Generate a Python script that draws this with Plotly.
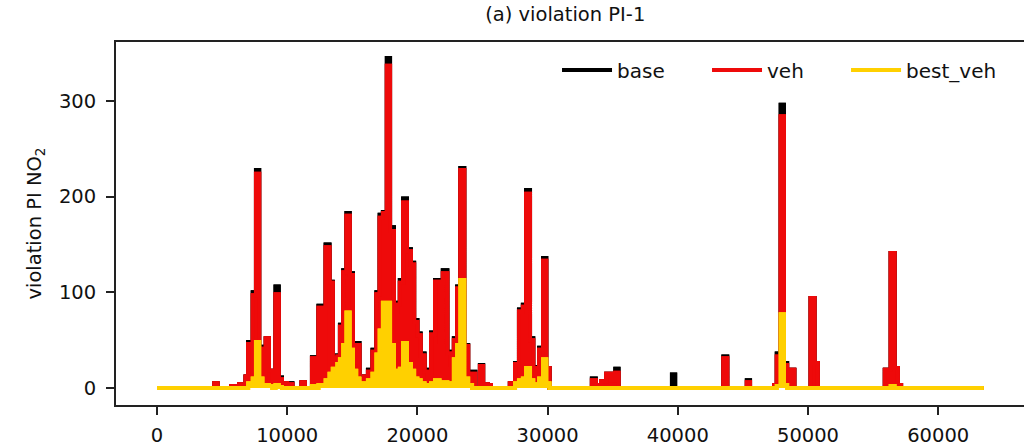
import plotly.graph_objects as go

# step breakpoints (hour index) and level of each series from there on
x_pts = [0, 4400, 4650, 5700, 6300, 6800, 7000, 7350, 7600, 7850, 8100, 8350, 8600, 8850,
         9100, 9350, 9600, 10000, 10400, 11100, 11350, 11900, 12150, 12400, 12700, 12950,
         13250, 13500, 13850, 14050, 14300, 14550, 14800, 15050, 15300, 15550, 15900, 16200,
         16550, 16850, 17100, 17350, 17650, 17900, 18200, 18450, 18650, 18900, 19200, 19500,
         19750, 20000, 20250, 20550, 20800, 21050, 21350, 21700, 21950, 22300, 22550, 22800,
         23050, 23300, 23600, 23900, 24200, 24450, 24800, 25050, 25400, 25650, 27100, 27500,
         27800, 28100, 28350, 28650, 28900, 29100, 29350, 29650, 29900, 30150, 33400, 33700,
         34100, 34500, 34900, 35200, 35450, 39550, 39800, 43500, 43800, 45300, 45550, 47400,
         47600, 47900, 48150, 48400, 48700, 48950, 50200, 50500, 50750, 55900, 56350, 56650,
         56900, 57150, 63500]

base = [0, 5, 0, 2, 4, 12, 48, 100, 228, 43, 10, 52, 18, 5,
        106, 11, 5, 5, 0, 6, 0, 32, 3, 86, 5, 150,
        111, 34, 34, 66, 123, 183, 120, 29, 47, 10, 12, 19,
        40, 100, 181, 184, 345, 168, 82, 89, 113, 198, 145, 131,
        71, 57, 36, 19, 5, 58, 113, 50, 123, 38, 26, 52,
        106, 230, 45, 15, 17, 0, 24, 4, 3, 0, 5, 26,
        82, 87, 207, 52, 5, 22, 42, 136, 21, 0, 10, 3,
        7, 15, 8, 20, 0, 14, 0, 33, 0, 8, 0, 3,
        36, 296, 26, 3, 19, 0, 94, 26, 0, 19, 141, 21,
        3, 0, 0]

veh = [0, 5, 0, 2, 4, 12, 46, 97, 224, 41, 10, 52, 18, 5,
       98, 9, 5, 4, 0, 6, 0, 31, 3, 84, 5, 147,
       110, 31, 33, 64, 121, 180, 118, 27, 45, 9, 12, 17,
       38, 98, 178, 183, 337, 164, 80, 87, 110, 194, 143, 129,
       69, 55, 34, 17, 5, 56, 111, 48, 120, 36, 24, 50,
       104, 228, 44, 13, 15, 0, 23, 4, 3, 0, 5, 25,
       80, 85, 203, 50, 5, 21, 40, 133, 21, 0, 8, 3,
       7, 15, 8, 16, 0, 0, 0, 31, 0, 6, 0, 3,
       33, 284, 24, 3, 19, 0, 94, 26, 0, 19, 141, 21,
       3, 0, 0]

best_veh = [0, 0, 0, 0, 0, 0, 5, 10, 48, 10, 2, 3, 2, 0,
            3, 1, 0, 0, 0, 0, 0, 2, 0, 3, 2, 8,
            15, 20, 25, 30, 45, 79, 40, 18, 10, 5, 3, 8,
            15, 35, 60, 89, 89, 45, 15, 18, 20, 47, 25, 18,
            10, 8, 5, 3, 2, 5, 8, 5, 6, 4, 5, 30,
            45, 113, 10, 3, 0, 0, 0, 0, 0, 0, 0, 5,
            8, 10, 21, 8, 2, 4, 10, 30, 5, 0, 0, 0,
            0, 0, 0, 0, 0, 0, 0, 0, 0, 0, 0, 0,
            2, 77, 3, 0, 0, 0, 0, 0, 0, 0, 2, 0,
            0, 0, 0]

series = [("base", base, "black", "legend"),
          ("veh", veh, "#ee0a0a", "legend2"),
          ("best_veh", best_veh, "#ffd000", "legend3")]

fig = go.Figure()
for name, ys, col, leg in series:
    # filled area under the step line (dense data looks solid in the original)
    fig.add_trace(go.Scatter(x=x_pts, y=ys, mode="lines", name=name, legendgroup=name,
                             line=dict(color=col, width=4, shape="hv"),
                             fill="tozeroy", fillcolor=col, showlegend=False))
    fig.add_trace(go.Scatter(x=x_pts, y=ys, mode="lines", name=name, legendgroup=name,
                             line=dict(color=col, width=4, shape="hv"), legend=leg))

font = "DejaVu Sans"
leg_style = dict(orientation="h", xanchor="left", y=0.923, yanchor="middle",
                 bgcolor="rgba(0,0,0,0)", font=dict(size=20), itemwidth=50)
fig.update_layout(
    width=1024, height=448,
    margin=dict(l=116, r=0, t=42, b=43),
    paper_bgcolor="white", plot_bgcolor="white",
    font=dict(family=font, size=19.5, color="#111"),
    title=dict(text="(a) violation PI-1", x=0.552, xanchor="center", y=0.968, yanchor="middle",
               font=dict(size=19.5)),
    showlegend=True,
    legend=dict(x=0.4857, **leg_style),
    legend2=dict(x=0.6509, **leg_style),
    legend3=dict(x=0.804, **leg_style),
    xaxis=dict(range=[-3150, 66590], showgrid=False, zeroline=False,
               showline=True, linecolor="#222", linewidth=1.8, mirror=True,
               ticks="outside", ticklen=8, tickwidth=1.8, tickcolor="#222", ticklabelstandoff=4,
               tickvals=[0, 10000, 20000, 30000, 40000, 50000, 60000], tickformat="d"),
    yaxis=dict(range=[-17.8, 361.7], showgrid=False, zeroline=False, automargin=False,
               showline=True, linecolor="#222", linewidth=1.8,
               ticks="outside", ticklen=8, tickwidth=1.8, tickcolor="#222", ticklabelstandoff=6,
               tickvals=[0, 100, 200, 300],
               title=dict(text="violation PI NO<sub>2</sub>", font=dict(size=19.5), standoff=12)),
)

fig.write_html("out.html", config={"displayModeBar": False},
               post_script="document.body.style.margin='0';")
